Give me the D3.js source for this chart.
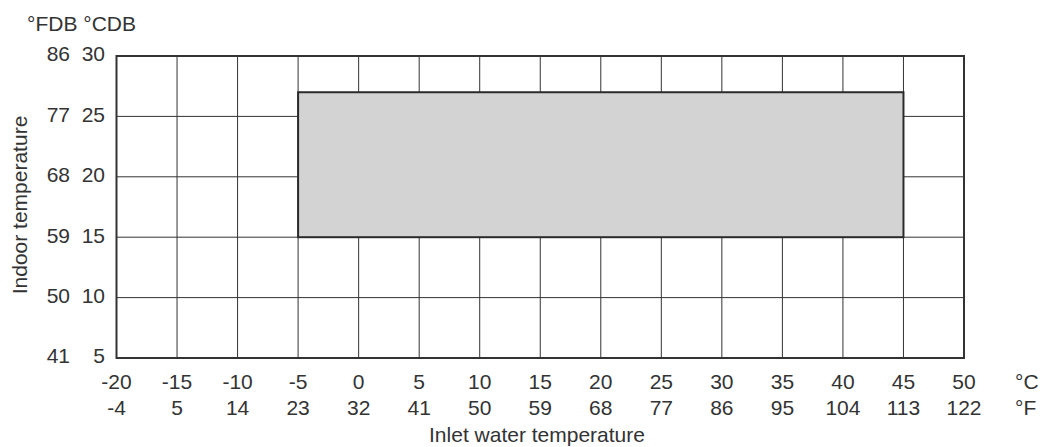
<!DOCTYPE html>
<html>
<head>
<meta charset="utf-8">
<script src="https://cdn.jsdelivr.net/npm/d3@7"></script>
<style>
  body { margin: 0; background: #fff; }
  text { font-family: "Liberation Sans", Arial, sans-serif; fill: #333; font-size: 21px; }
</style>
</head>
<body>
<svg id="chart" width="1040" height="447"></svg>
<script>
// axis ticks (°C) and their °F labels
const xTicksC = [-20, -15, -10, -5, 0, 5, 10, 15, 20, 25, 30, 35, 40, 45, 50];
const xTicksF = ["-4", "5", "14", "23", "32", "41", "50", "59", "68", "77", "86", "95", "104", "113", "122"];
const yTicksC = [5, 10, 15, 20, 25, 30];
const yTicksF = ["41", "50", "59", "68", "77", "86"];
// operating range: inlet water -5..45 °C, indoor 15..27 °C
const rangeWater = [-5, 45];
const rangeIndoor = [15, 27];

const svg = d3.select("#chart");
const plotL = 116.5, plotR = 964, plotT = 56, plotB = 358;

const x = d3.scaleLinear().domain([-20, 50]).range([plotL, plotR]);
const y = d3.scaleLinear().domain([5, 30]).range([plotB, plotT]);

// grid
svg.append("g").selectAll("line")
    .data(xTicksC)
    .enter().append("line")
    .attr("x1", d => x(d)).attr("x2", d => x(d))
    .attr("y1", plotT).attr("y2", plotB)
    .style("stroke", "#333").style("stroke-width", 1);
svg.append("g").selectAll("line")
    .data(yTicksC)
    .enter().append("line")
    .attr("x1", plotL).attr("x2", plotR)
    .attr("y1", d => y(d)).attr("y2", d => y(d))
    .style("stroke", "#333").style("stroke-width", 1);

// range box
svg.append("rect")
    .attr("x", x(rangeWater[0]))
    .attr("y", y(rangeIndoor[1]))
    .attr("width", x(rangeWater[1]) - x(rangeWater[0]))
    .attr("height", y(rangeIndoor[0]) - y(rangeIndoor[1]))
    .style("fill", "#d3d3d4")
    .style("stroke", "#2b2b2b")
    .style("stroke-width", 2);

// frame
svg.append("rect")
    .attr("x", plotL).attr("y", plotT)
    .attr("width", plotR - plotL).attr("height", plotB - plotT)
    .style("fill", "none").style("stroke", "#333").style("stroke-width", 2);

// y labels
svg.append("g").selectAll("text")
    .data(yTicksC)
    .enter().append("text")
    .attr("x", 105).attr("y", d => y(d) - 2).attr("dy", "0.35em")
    .attr("text-anchor", "end")
    .text(d => d);
svg.append("g").selectAll("text")
    .data(yTicksF)
    .enter().append("text")
    .attr("x", 70).attr("y", (d, i) => y(yTicksC[i]) - 2).attr("dy", "0.35em")
    .attr("text-anchor", "end")
    .text(d => d);

// x labels
svg.append("g").selectAll("text")
    .data(xTicksC)
    .enter().append("text")
    .attr("x", d => x(d)).attr("y", 382).attr("dy", "0.35em")
    .attr("text-anchor", "middle")
    .text(d => d);
svg.append("g").selectAll("text")
    .data(xTicksF)
    .enter().append("text")
    .attr("x", (d, i) => x(xTicksC[i])).attr("y", 408).attr("dy", "0.35em")
    .attr("text-anchor", "middle")
    .text(d => d);

// unit labels
svg.append("text").attr("x", 1015).attr("y", 382).attr("dy", "0.35em").text("°C");
svg.append("text").attr("x", 1015).attr("y", 408).attr("dy", "0.35em").text("°F");
svg.append("text").attr("x", 27).attr("y", 24).attr("dy", "0.35em").text("°FDB °CDB");

// axis titles
svg.append("text").attr("x", 537).attr("y", 435).attr("dy", "0.35em")
    .attr("text-anchor", "middle")
    .text("Inlet water temperature");
svg.append("text")
    .attr("transform", "translate(20,205) rotate(-90)")
    .attr("dy", "0.35em")
    .attr("text-anchor", "middle")
    .text("Indoor temperature");
</script>
</body>
</html>
